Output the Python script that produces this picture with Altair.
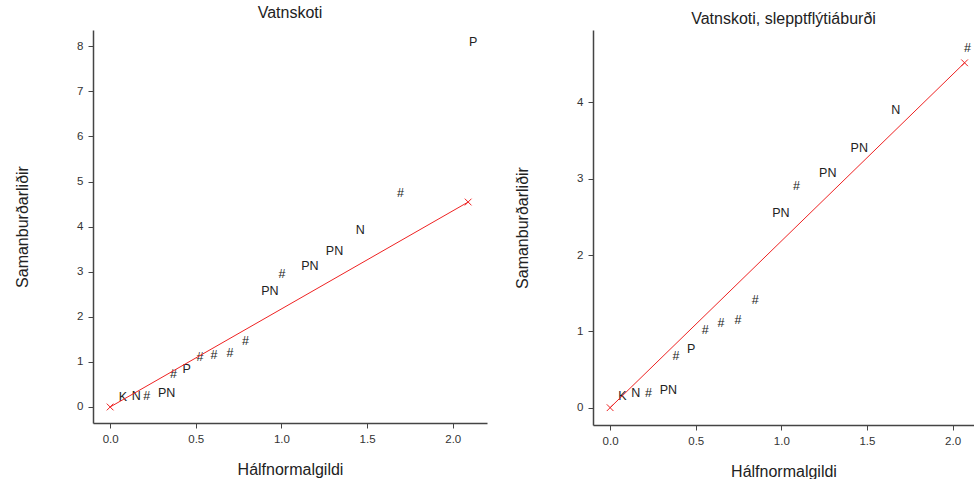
import altair as alt
import pandas as pd

# Half-normal plot of effects, all effects included
labels_all = ["K", "N", "#", "PN", "#", "P", "#", "#", "#", "#",
              "PN", "#", "PN", "PN", "N", "#", "P"]
hn_all = [0.074, 0.152, 0.214, 0.33, 0.37, 0.447, 0.525, 0.606, 0.70, 0.79,
          0.933, 1.003, 1.166, 1.31, 1.46, 1.695, 2.12]
eff_all = [0.23, 0.25, 0.25, 0.30, 0.73, 0.835, 1.10, 1.16, 1.20, 1.47,
           2.58, 2.95, 3.13, 3.45, 3.92, 4.75, 8.10]
ref_all_x = [0.0, 2.09]
ref_all_y = [0.0, 4.545]

# Same plot with the fertilizer-timing effect dropped
labels_red = ["K", "N", "#", "PN", "#", "P", "#", "#", "#", "#",
              "PN", "#", "PN", "PN", "N", "#"]
hn_red = [0.072, 0.150, 0.224, 0.34, 0.384, 0.473, 0.555, 0.648, 0.746, 0.847,
          0.997, 1.088, 1.271, 1.455, 1.668, 2.087]
eff_red = [0.157, 0.197, 0.197, 0.232, 0.678, 0.765, 1.018, 1.106, 1.149, 1.41,
           2.548, 2.905, 3.07, 3.40, 3.90, 4.71]
ref_red_x = [0.0, 2.07]
ref_red_y = [0.0, 4.52]

FONT = "Liberation Sans"
X_TICKS = [0.0, 0.5, 1.0, 1.5, 2.0]
CROSS = "M-1,-1L1,1M1,-1L-1,1"


def panel(title, labels, hx, hy, rx, ry, xdom, ydom, yticks, w, h, title_dy=0):
    pts = pd.DataFrame({"lab": labels, "x": hx, "y": hy})
    ref = pd.DataFrame({"x": rx, "y": ry})
    xs = alt.Scale(domain=xdom, nice=False, zero=False)
    ys = alt.Scale(domain=ydom, nice=False, zero=False)
    xax = alt.Axis(values=X_TICKS, format=".1f", title="Hálfnormalgildi",
                   titleY=46, titleBaseline="middle")
    yax = alt.Axis(values=yticks, format="d", title="Samanburðarliðir",
                   titleX=-71, titleBaseline="middle")
    txt = alt.Chart(pts).mark_text(font=FONT, fontSize=12.5, color="#222222").encode(
        x=alt.X("x:Q", scale=xs, axis=xax),
        y=alt.Y("y:Q", scale=ys, axis=yax),
        text="lab:N",
    )
    line = alt.Chart(ref).mark_line(color="#ee2222", strokeWidth=1).encode(
        x=alt.X("x:Q", scale=xs), y=alt.Y("y:Q", scale=ys)
    )
    ends = alt.Chart(ref).mark_point(shape=CROSS, size=45, filled=False,
                                     color="#ee2222", strokeWidth=1, opacity=1).encode(
        x=alt.X("x:Q", scale=xs), y=alt.Y("y:Q", scale=ys)
    )
    return alt.layer(txt, line, ends).properties(
        width=w, height=h,
        title=alt.TitleParams(title, fontSize=16, font=FONT, fontWeight="normal",
                              color="#222222", offset=9, dy=title_dy),
    )


left = panel("Vatnskoti", labels_all, hn_all, eff_all, ref_all_x, ref_all_y,
             [-0.1, 2.2], [-0.355, 8.36], list(range(9)), 394, 393)
right = panel("Vatnskoti, slepptflýtiáburði", labels_red, hn_red, eff_red,
              ref_red_x, ref_red_y, [-0.1, 2.125], [-0.227, 4.95], list(range(5)),
              381, 395, title_dy=6)

chart = alt.hconcat(left, right, spacing=27).properties(
    padding={"left": 14, "top": 5, "right": 0, "bottom": 0}
).configure_view(stroke=None).configure_axis(
    grid=False, domainColor="#444444", domainWidth=1.5, tickColor="#444444",
    tickSize=5, labelFont=FONT, labelFontSize=11.5, labelColor="#333333",
    labelPadding=5, titleFont=FONT, titleFontSize=16, titleFontWeight="normal",
    titleColor="#222222",
)

chart.save("out.html", embed_options={"renderer": "svg", "actions": False})
